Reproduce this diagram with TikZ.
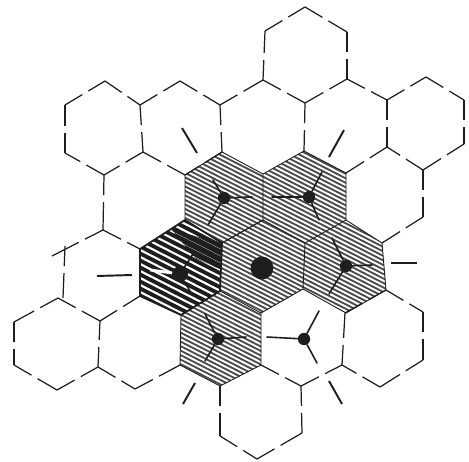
\documentclass[tikz,border=0pt]{standalone}
\usepackage{xcolor}
\usepackage{tikz}
\definecolor{ink}{RGB}{30, 30, 30}
\tikzset{
    celledge/.style={ink, line width=0.7pt, dash pattern=on 11.5pt off 4pt on 24pt},
    celloutline/.style={ink, line width=0.5pt},
    spoke/.style={ink, line width=0.9pt, line cap=round},
    tick/.style={ink, line width=1.1pt},
    hub/.style={circle, fill=ink, inner sep=0pt, minimum size=7pt},
    mainhub/.style={circle, fill=ink, inner sep=0pt, minimum size=13pt},
    lighthatch/.style={ink!80, line width=1.05pt},
    darkhatch/.style={ink, line width=2.2pt},
}
\begin{document}
\begin{tikzpicture}[x=0.02cm,y=-0.02cm]
    \useasboundingbox (0,0) rectangle (469,462);
    \fill[white] (0,0) rectangle (469,462);

    % Light hatching
    \begin{scope}
        \clip (263,220) -- (305,243) -- (303,289) -- (261,313) -- (220,291) -- (222,243) -- cycle
              (185,175) -- (222,152) -- (263,174) -- (263,220) -- (222,243) -- (185,220) -- cycle
              (263,174) -- (304,151) -- (346,173) -- (346,220) -- (305,243) -- (263,220) -- cycle
              (305,243) -- (346,220) -- (382,243) -- (386,290) -- (346,313) -- (303,289) -- cycle
              (181,315) -- (220,291) -- (261,313) -- (261,365) -- (220,386) -- (180,365) -- cycle;
        \foreach \c in {-100,-95.5,...,400} {
            \draw[lighthatch] (100,\c) -- (500,\c+204);
        }
    \end{scope}

    % Dark hatching
    \begin{scope}
        \clip (140,249) -- (185,220) -- (222,243) -- (220,291) -- (181,315) -- (140,296) -- cycle;
        \foreach \c in {100,107,...,300} {
            \draw[darkhatch] (100,\c) -- (300,\c+102);
        }
        \clip (172,230) -- (222,243) -- (222,270) -- (195,258) -- cycle;
        \foreach \c in {100,107,...,300} {
            \draw[darkhatch, line width=3.3pt] (100,\c) -- (300,\c+102);
        }
    \end{scope}

    % Shaded cell outlines
    \draw[celloutline] (263,220) -- (305,243) -- (303,289) -- (261,313) -- (220,291) -- (222,243) -- cycle;
    \draw[celloutline] (185,175) -- (222,152) -- (263,174) -- (263,220) -- (222,243) -- (185,220) -- cycle;
    \draw[celloutline] (263,174) -- (304,151) -- (346,173) -- (346,220) -- (305,243);
    \draw[celloutline] (346,220) -- (382,243) -- (386,290) -- (346,313) -- (303,289);
    \draw[celloutline] (181,315) -- (220,291) (261,313) -- (261,365) -- (220,386) -- (180,365) -- (181,315);
    \draw[ink, line width=1pt] (140,249) -- (185,220) -- (222,243) -- (220,291) -- (181,315) -- (140,296) -- cycle;

    % Open cells
    \foreach \xa/\ya/\xb/\yb in {
        65/105/105/81, 105/81/140/105, 140/105/143/152, 143/152/104/175, 104/175/65/153, 65/153/65/105,
        140/105/180/81, 180/81/220/105, 220/105/222/152, 222/152/185/175, 185/175/143/152,
        220/105/263/80, 263/80/305/103, 305/103/304/151,
        263/80/265/31, 265/31/305/7, 305/7/347/32, 347/32/347/79, 347/79/305/103,
        347/79/387/100, 387/100/387/147, 387/147/346/173,
        387/100/426/77, 426/77/464/100, 464/100/464/144, 464/144/423/170, 423/170/387/147,
        423/170/423/217, 423/217/382/243,
        104/175/103/230, 103/230/140/249,
        103/230/52/256, 65/246/63/298, 58/298/100/321, 100/321/140/296,
        58/298/14/322, 14/322/14/365, 14/365/57/390, 57/390/98/367, 98/367/100/321,
        98/367/135/389, 135/389/180/365,
        261/365/301/386, 301/386/342/365, 342/365/345/313, 345/313/386/290,
        220/386/220/436, 220/436/257/459, 257/459/302/433, 302/433/301/386,
        386/290/423/312, 423/312/423/360, 423/360/380/387, 380/387/342/365} {
        \draw[celledge] (\xa,\ya) -- (\xb,\yb);
    }

    % Hubs
    \node[mainhub] (centre) at (262,268) {};
    \node[hub] (upleft) at (224,198) {};
    \node[hub] (upright) at (309,197) {};
    \node[hub] (right) at (346,266) {};
    \node[hub, minimum size=9pt] (left) at (180,274) {};
    \node[hub] (downleft) at (218,339) {};
    \node[hub] (downright) at (304,339) {};

    % Spokes of each hub
    \foreach \hubname/\tipx/\tipy in {upleft/208/225, upleft/213/180, upleft/252/197,
        upright/272/197, upright/322/172, upright/319/220,
        right/372/265, right/332/238, right/329/294,
        left/193/254, left/190/291,
        downleft/205/314, downleft/205/361, downleft/246/337,
        downright/267/337, downright/319/311, downright/317/363} {
        \draw[spoke] (\hubname) -- (\tipx,\tipy);
    }
    \draw[white, line width=1.6pt] (left) -- (150,270);

    % Ticks in the open cells
    \foreach \xa/\ya/\xb/\yb in {182/128/197/153, 329/157/344/130, 391/263/417/263,
        97/276/132/275, 195/383/183/404, 329/381/342/404} {
        \draw[tick] (\xa,\ya) -- (\xb,\yb);
    }
\end{tikzpicture}
\end{document}
